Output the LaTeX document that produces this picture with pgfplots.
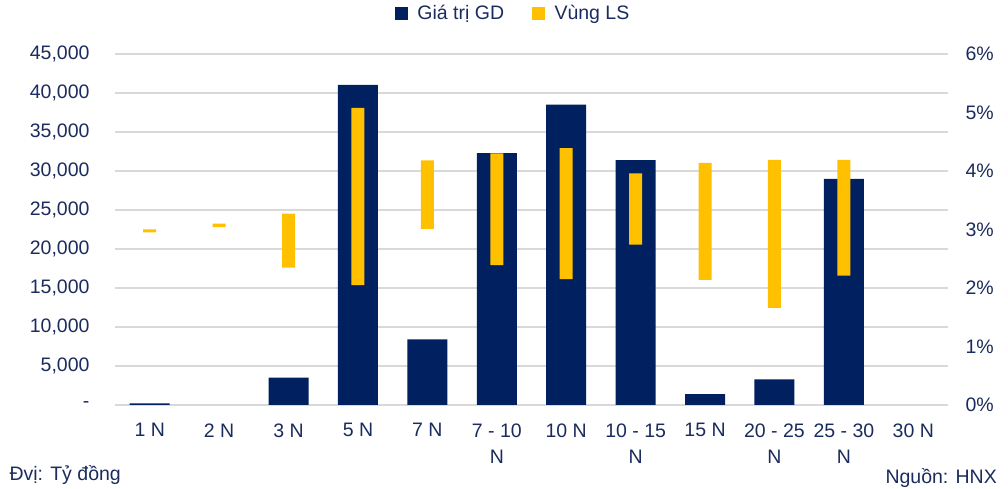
\documentclass[border=0pt]{standalone}
\usepackage{pgfplots}
\pgfplotsset{compat=1.18}
\usepackage{pgfplotstable}
\usepackage{fontspec}
\setmainfont{Liberation Sans}
\definecolor{navy}{HTML}{002060}
\definecolor{gold}{HTML}{FFC000}
\definecolor{txt}{HTML}{1B2B5E}
\definecolor{gridc}{HTML}{D9D9D9}

\pgfplotstableread{
x val
0 200
2 3500
3 41050
4 8400
5 32300
6 38500
7 31400
8 1400
9 3300
10 29000
}\gd

\pgfplotstableread{
x lo hi
0 2.95 3.00
1 3.04 3.10
2 2.35 3.27
3 2.05 5.08
4 3.01 4.18
5 2.39 4.30
6 2.15 4.39
7 2.74 3.96
8 2.14 4.14
9 1.66 4.19
10 2.21 4.19
}\ls

\begin{document}
\begin{tikzpicture}
\useasboundingbox (0,0) rectangle (1008pt,489pt);
\begin{axis}[
  at={(115pt,84pt)}, anchor=south west,
  scale only axis, width=833pt, height=351pt,
  xmin=-0.5, xmax=11.5, ymin=0, ymax=45000,
  axis line style={draw=none}, major tick length=0pt,
  scaled y ticks=false,
  xtick={0,...,11},
  xticklabels={1 N, 2 N, 3 N, 5 N, 7 N, {7 - 10\\N}, 10 N, {10 - 15\\N}, 15 N, {20 - 25\\N}, {25 - 30\\N}, 30 N},
  xticklabel style={align=center, anchor=north, yshift=-15pt},
  ytick={0,5000,...,45000},
  yticklabels={-,{5,000},{10,000},{15,000},{20,000},{25,000},{30,000},{35,000},{40,000},{45,000}},
  yticklabel style={xshift=-22pt},
  ymajorgrids, grid style={gridc, line width=1.3pt},
  tick label style={font=\fontsize{19.5}{26}\selectfont, text=txt},
  legend style={at={(0.478,1.117)}, anchor=center, draw=none, fill=none,
    legend columns=2, font=\fontsize{19.5}{24}\selectfont, text=txt,
    /tikz/every odd column/.append style={column sep=8pt},
    /tikz/every even column/.append style={column sep=26pt}},
]
\addplot[ybar, bar width=40pt, fill=navy, draw=none, forget plot] table[x=x,y=val]{\gd};
\addlegendimage{legend image code/.code={\fill[navy] (0pt,-6pt) rectangle (12pt,6pt);}}
\addlegendentry{Giá trị GD}
\addlegendimage{legend image code/.code={\fill[gold] (0pt,-6pt) rectangle (12pt,6pt);}}
\addlegendentry{Vùng LS}
\end{axis}
\begin{axis}[
  at={(115pt,84pt)}, anchor=south west,
  scale only axis, width=833pt, height=351pt,
  xmin=-0.5, xmax=11.5, ymin=0, ymax=6,
  axis y line*=right, axis x line=none,
  axis line style={draw=none}, major tick length=0pt,
  ytick={0,...,6},
  yticklabel={\pgfmathprintnumber{\tick}\%},
  /pgf/number format/assume math mode=true,
  yticklabel style={xshift=14pt},
  tick label style={font=\fontsize{19.5}{26}\selectfont, text=txt},
  ybar stacked, bar width=13pt,
]
\addplot[fill=none, draw=none] table[x=x,y=lo]{\ls};
\addplot[fill=gold, draw=none] table[x=x,y expr=\thisrow{hi}-\thisrow{lo}]{\ls};
\end{axis}
\node[anchor=base west, font=\fontsize{19.5}{24}\selectfont, text=txt] at (6pt,8pt) {Đvị: Tỷ đồng};
\node[anchor=base west, font=\fontsize{19.5}{24}\selectfont, text=txt] at (882pt,5pt) {Nguồn: HNX};
\end{tikzpicture}
\end{document}
